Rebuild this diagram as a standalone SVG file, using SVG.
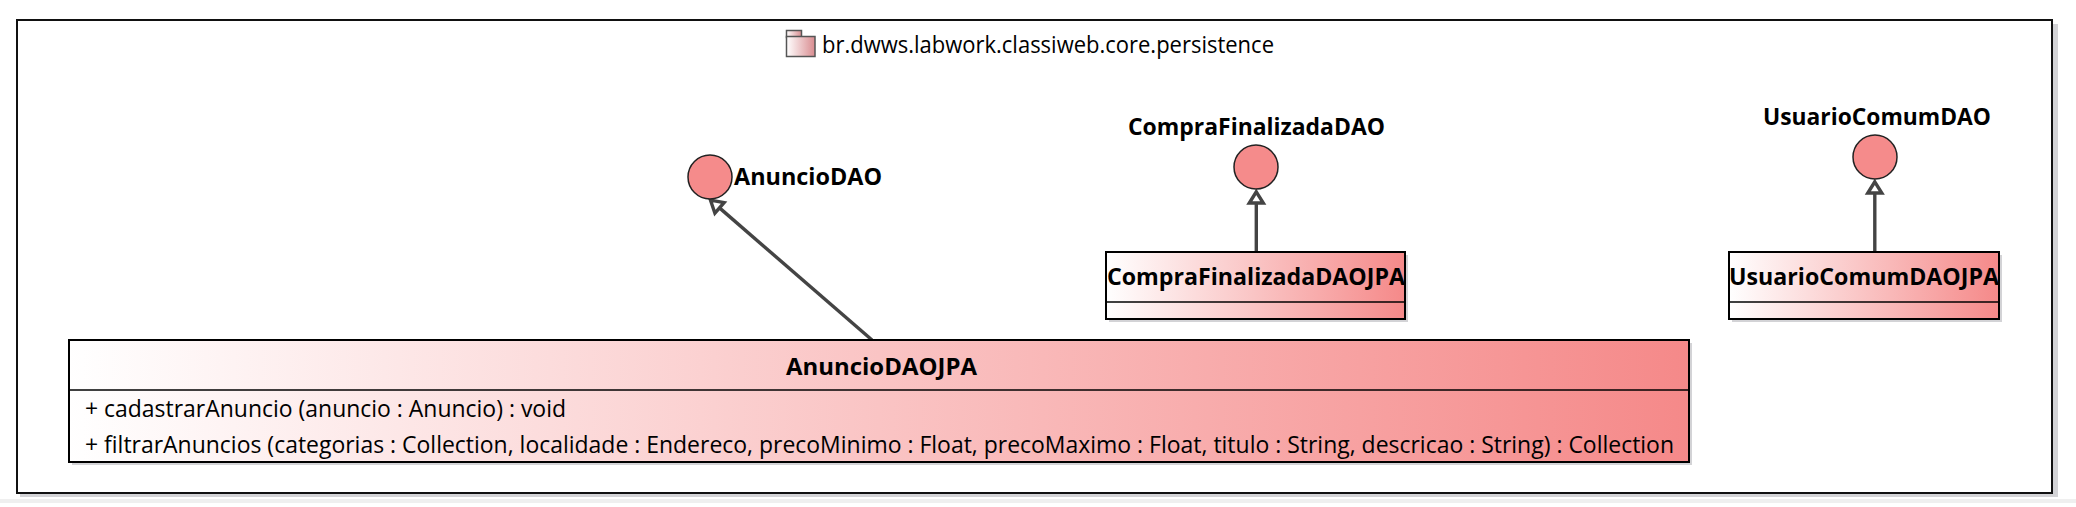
<svg xmlns="http://www.w3.org/2000/svg" width="2076" height="507" viewBox="0 0 2076 507">
<style>
text{font-family:"Open Sans","Noto Sans","Liberation Sans",sans-serif;font-size:23px;fill:#000}
.b{font-weight:700;font-size:22.5px}
.box{stroke:#000;stroke-width:2;fill:url(#g)}
.shadow{fill:#c8c8cc;opacity:.8}
.sep{stroke:#000;stroke-width:1.5}
.iface{fill:#f58b8b;stroke:#222;stroke-width:1.5}
.conn{stroke:#444;stroke-width:3.4;fill:none}
.head{stroke:#444;stroke-width:3.4;fill:#fff;stroke-linejoin:miter}
</style>
<defs>
<linearGradient id="g" x1="0" y1="0" x2="1" y2="0"><stop offset="0" stop-color="#fff"/><stop offset="1" stop-color="#f58989"/></linearGradient>
<linearGradient id="p" x1="0" y1="0" x2="1" y2="0"><stop offset="0" stop-color="#fff"/><stop offset="1" stop-color="#d98c90"/></linearGradient>
</defs>
<rect width="2076" height="507" fill="#fff"/>
<rect x="0" y="499" width="2076" height="4" fill="#efefef"/>
<g id="package">
<rect x="20" y="24" width="2038" height="473" class="shadow"/>
<rect x="17" y="20" width="2035" height="473" fill="#fff" stroke="#111" stroke-width="2"/>
<rect x="786.500" y="30.500" width="15" height="7" fill="url(#p)" stroke="#555" stroke-width="1.500"/>
<rect x="786.500" y="36.500" width="28.500" height="20" fill="url(#p)" stroke="#555" stroke-width="1.500"/>
<text x="822" y="53" textLength="452" lengthAdjust="spacingAndGlyphs">br.dwws.labwork.classiweb.core.persistence</text>
</g>
<g id="connectors">
<path class="conn" d="M872 340L719.500 207.900"/>
<path class="head" d="M710.500 200.200L724.100 202.600L714.900 213.200Z"/>
<path class="conn" d="M1256.300 252V203"/>
<path class="head" d="M1256.300 191.800L1263.300 203H1249.300Z"/>
<path class="conn" d="M1874.800 252V193"/>
<path class="head" d="M1874.800 181.800L1881.800 193H1867.800Z"/>
</g>
<g id="AnuncioDAO">
<circle class="iface" cx="710" cy="177" r="22"/>
<text class="b" x="734" y="185" textLength="148" lengthAdjust="spacingAndGlyphs">AnuncioDAO</text>
</g>
<g id="CompraFinalizadaDAO">
<circle class="iface" cx="1256" cy="167" r="22"/>
<text class="b" x="1128" y="135" textLength="257" lengthAdjust="spacingAndGlyphs">CompraFinalizadaDAO</text>
</g>
<g id="UsuarioComumDAO">
<circle class="iface" cx="1875" cy="157" r="22"/>
<text class="b" x="1763" y="125" textLength="228" lengthAdjust="spacingAndGlyphs">UsuarioComumDAO</text>
</g>
<g id="CompraFinalizadaDAOJPA">
<rect class="shadow" x="1109" y="255" width="299" height="67"/>
<rect class="box" x="1106" y="252" width="299" height="67"/>
<line class="sep" x1="1106" y1="302" x2="1405" y2="302"/>
<text class="b" x="1107" y="285" textLength="298" lengthAdjust="spacingAndGlyphs">CompraFinalizadaDAOJPA</text>
</g>
<g id="UsuarioComumDAOJPA">
<rect class="shadow" x="1732" y="255" width="270" height="67"/>
<rect class="box" x="1729" y="252" width="270" height="67"/>
<line class="sep" x1="1729" y1="302" x2="1999" y2="302"/>
<text class="b" x="1729" y="285" textLength="270" lengthAdjust="spacingAndGlyphs">UsuarioComumDAOJPA</text>
</g>
<g id="AnuncioDAOJPA">
<rect class="shadow" x="72" y="343" width="1620" height="122"/>
<rect class="box" x="69" y="340" width="1620" height="122"/>
<line class="sep" x1="69" y1="390" x2="1689" y2="390"/>
<text class="b" x="786" y="375" textLength="191" lengthAdjust="spacingAndGlyphs">AnuncioDAOJPA</text>
<text x="85" y="417" textLength="481" lengthAdjust="spacingAndGlyphs">+ cadastrarAnuncio (anuncio : Anuncio) : void</text>
<text x="85" y="453" textLength="1589" lengthAdjust="spacingAndGlyphs">+ filtrarAnuncios (categorias : Collection, localidade : Endereco, precoMinimo : Float, precoMaximo : Float, titulo : String, descricao : String) : Collection</text>
</g>
</svg>
